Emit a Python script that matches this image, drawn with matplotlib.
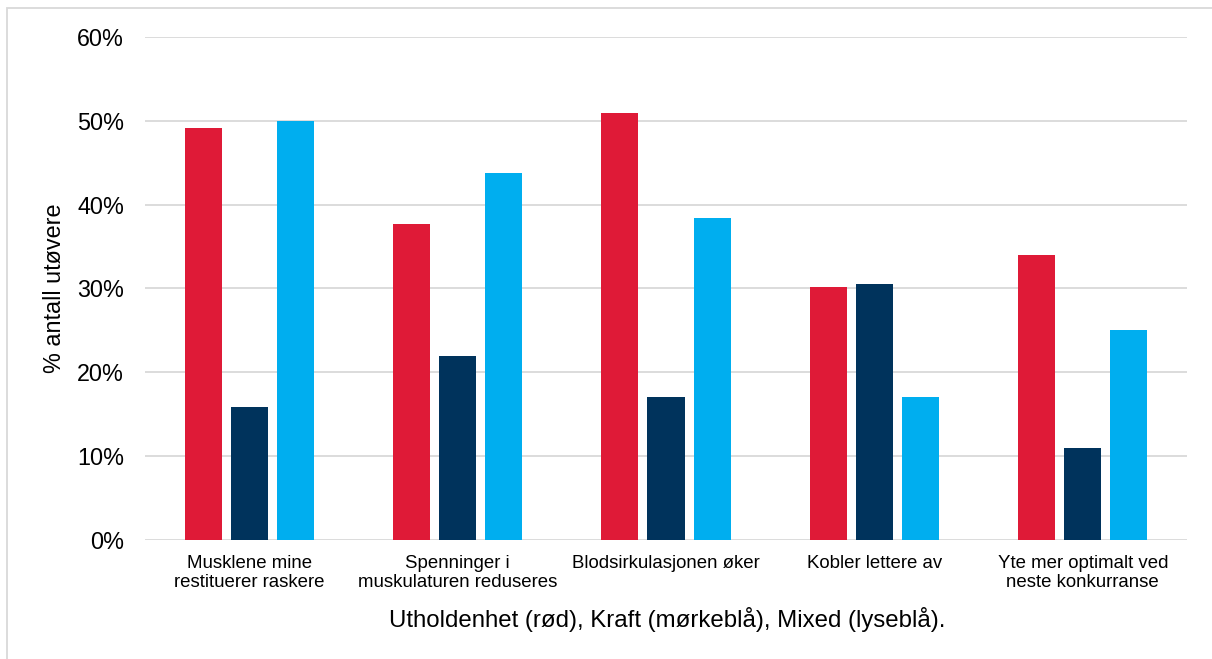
import matplotlib
matplotlib.use("Agg")
import matplotlib.pyplot as plt
import numpy as np
from matplotlib.patches import Rectangle

categories = [
    "Musklene mine\nrestituerer raskere",
    "Spenninger i\nmuskulaturen reduseres",
    "Blodsirkulasjonen øker",
    "Kobler lettere av",
    "Yte mer optimalt ved\nneste konkurranse",
]
utholdenhet = [49.1, 37.7, 50.9, 30.2, 34.0]
kraft = [15.9, 22.0, 17.1, 30.5, 11.0]
mixed = [50.0, 43.8, 38.4, 17.0, 25.0]
yticks = [0, 10, 20, 30, 40, 50, 60]

colors = ["#DF1A37", "#00335C", "#00AEEF"]

plt.rcParams["font.family"] = ["Liberation Sans", "DejaVu Sans"]

fig = plt.figure(figsize=(12.12, 6.59), dpi=100)
ax = fig.add_axes([0.1196, 0.1806, 0.8598, 0.7633])

x = np.arange(len(categories))
width = 0.178
step = 0.221
for i, (vals, c) in enumerate(zip([utholdenhet, kraft, mixed], colors)):
    ax.bar(x + (i - 1) * step, vals, width=width, color=c, zorder=3)

ax.set_xlim(-0.5, len(categories) - 0.5)
ax.set_ylim(0, 60)
ax.set_yticks(yticks)
ax.set_yticklabels([f"{v}%" for v in yticks], fontsize=16.8)
ax.yaxis.grid(True, color="#D9D9D9", linewidth=1.3, zorder=0)
ax.set_axisbelow(True)
for s in ax.spines.values():
    s.set_visible(False)
ax.tick_params(axis="both", length=0)
ax.tick_params(axis="y", pad=15)

ax.set_xticks(x)
ax.set_xticklabels([])
for xi, lab in zip(x, categories):
    ax.text(xi, -1.85, lab, ha="center", va="top", fontsize=13.4,
            linespacing=1.12, multialignment="center", color="#000000",
            transform=ax.transData)

ax.set_ylabel("% antall utøvere", fontsize=16.8, labelpad=8)
fig.text(0.5506, 1 - 619 / 659, "Utholdenhet (rød), Kraft (mørkeblå), Mixed (lyseblå).",
         ha="center", va="center", fontsize=17.3)

# chart frame
fig.patches.append(Rectangle((7 / 1212, -0.1), 1.2, 1 - 8 / 659 + 0.1,
                             transform=fig.transFigure, fill=False,
                             edgecolor="#D9D9D9", linewidth=1.3))

fig.savefig("out.png", dpi=100)
